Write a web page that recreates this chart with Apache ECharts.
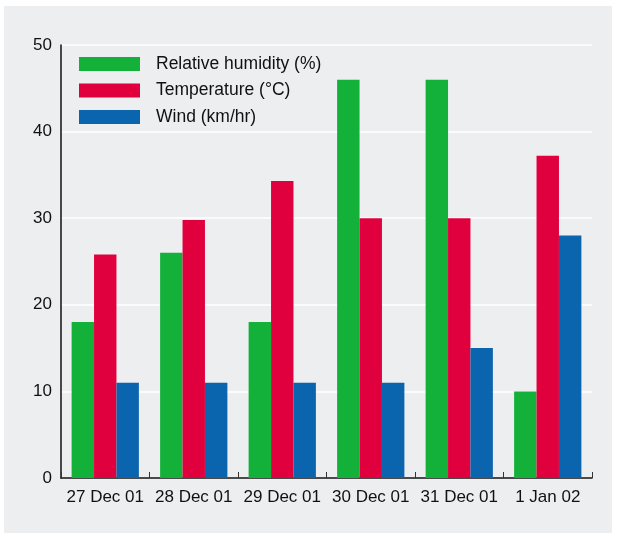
<!DOCTYPE html>
<html>
<head>
<meta charset="utf-8">
<script src="https://cdn.jsdelivr.net/npm/echarts@6/dist/echarts.min.js"></script>
<style>
html,body{margin:0;padding:0;background:#ffffff;}
#bg{position:absolute;left:4px;top:6px;width:608px;height:527px;background:#edeef0;}
#main{position:absolute;left:0;top:0;width:617px;height:534px;}
</style>
</head>
<body>
<div id="bg"></div>
<div id="main"></div>
<script>
const categories = ['27 Dec 01', '28 Dec 01', '29 Dec 01', '30 Dec 01', '31 Dec 01', '1 Jan 02'];
const humidity = [18, 26, 18, 46, 46, 10];
const temperature = [25.8, 29.8, 34.3, 30, 30, 37.2];
const wind = [11, 11, 11, 11, 15, 28];
const yTicks = [0, 10, 20, 30, 40, 50];

const FONT = '"Liberation Sans", Arial, sans-serif';
const chart = echarts.init(document.getElementById('main'), null, {renderer: 'canvas'});
chart.setOption({
  backgroundColor: 'transparent',
  animation: false,
  grid: {left: 61, right: 25, top: 45, bottom: 56, containLabel: false},
  legend: {
    orient: 'vertical',
    left: 79, top: 55,
    padding: 0,
    itemWidth: 61, itemHeight: 14, itemGap: 8.5,
    icon: 'rect',
    textStyle: {fontFamily: FONT, fontSize: 17.5, color: '#111', padding: [0, 0, 0, 11]},
    data: ['Relative humidity (%)', 'Temperature (°C)', 'Wind (km/hr)']
  },
  xAxis: {
    type: 'category',
    data: categories,
    axisLine: {lineStyle: {color: '#111', width: 1.5}},
    axisTick: {show: true, inside: true, interval: 0, length: 6, lineStyle: {color: '#333', width: 1}},
    axisLabel: {interval: 0, hideOverlap: false, fontFamily: FONT, fontSize: 17, color: '#111', margin: 11},
    splitLine: {show: false}
  },
  yAxis: {
    type: 'value',
    min: yTicks[0], max: yTicks[yTicks.length - 1], interval: 10,
    axisLine: {show: true, lineStyle: {color: '#111', width: 1.5}},
    axisTick: {show: false},
    axisLabel: {fontFamily: FONT, fontSize: 17, color: '#111', margin: 9},
    splitLine: {show: true, lineStyle: {color: '#ffffff', width: 1.5}}
  },
  series: [
    {name: 'Relative humidity (%)', type: 'bar', data: humidity, itemStyle: {color: '#13b139'}, barGap: '0%', barCategoryGap: '24%'},
    {name: 'Temperature (°C)', type: 'bar', data: temperature, itemStyle: {color: '#e1003e'}, barGap: '0%', barCategoryGap: '24%'},
    {name: 'Wind (km/hr)', type: 'bar', data: wind, itemStyle: {color: '#0b64ae'}, barGap: '0%', barCategoryGap: '24%'}
  ]
});
</script>
</body>
</html>
